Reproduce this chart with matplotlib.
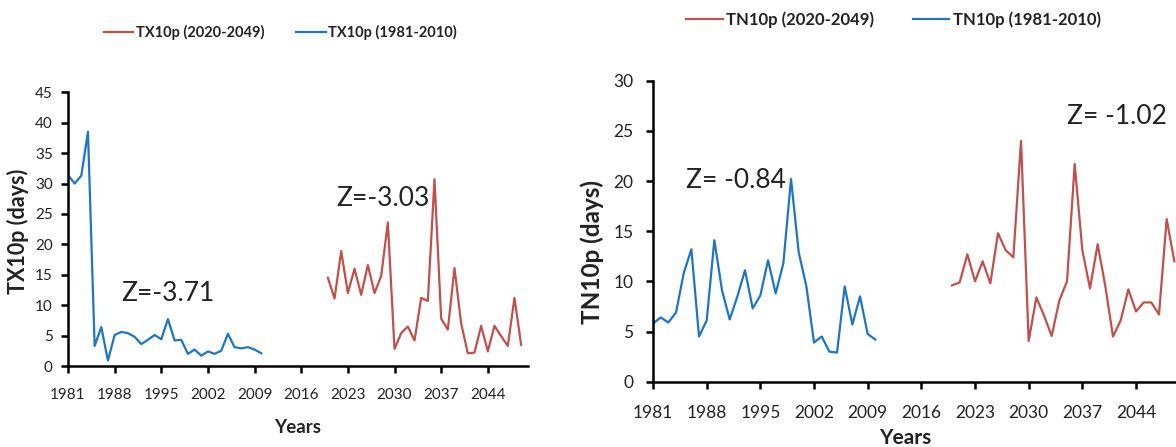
import matplotlib
matplotlib.use("Agg")
import matplotlib.pyplot as plt

plt.rcParams['font.family'] = ['Lato', 'DejaVu Sans']

years_base = list(range(1981, 2011))
years_future = list(range(2020, 2050))

tx10p_base = [31.4, 30.0, 31.3, 38.5, 3.3, 6.4, 0.9, 5.1, 5.6, 5.4,
              4.8, 3.6, 4.3, 5.1, 4.4, 7.7, 4.2, 4.3, 2.0, 2.7,
              1.7, 2.4, 2.0, 2.5, 5.3, 3.1, 2.9, 3.1, 2.7, 2.1]
tx10p_future = [14.5, 11.1, 18.9, 12.0, 16.0, 11.7, 16.6, 12.0, 14.8, 23.6,
                2.8, 5.4, 6.5, 4.2, 11.2, 10.7, 30.7, 7.8, 6.0, 16.1,
                7.0, 2.1, 2.2, 6.6, 2.4, 6.6, 4.9, 3.3, 11.2, 3.5]

tn10p_base = [5.8, 6.4, 5.9, 6.9, 10.8, 13.2, 4.5, 6.1, 14.1, 9.1,
              6.2, 8.5, 11.1, 7.3, 8.6, 12.1, 8.8, 11.8, 20.2, 12.9,
              9.5, 3.9, 4.5, 3.0, 2.9, 9.5, 5.7, 8.5, 4.75, 4.2]
tn10p_future = [9.6, 9.9, 12.7, 10.0, 12.0, 9.8, 14.8, 13.1, 12.4, 24.0,
                4.05, 8.4, 6.6, 4.55, 8.1, 10.0, 21.7, 13.1, 9.3, 13.7,
                9.5, 4.5, 6.1, 9.2, 7.0, 7.9, 7.9, 6.7, 16.2, 12.0]

tick_years = list(range(1981, 2045, 7))

RED = '#C0504D'
BLUE = '#1F74C4'
TXT = '#222222'

fig = plt.figure(figsize=(11.76, 4.47), dpi=100)

def style(ax, ymax, ystep, tick_fs, xpad, ypad, ylab, ylab_fs, ylab_xy,
          xlab_fs, xlab_xy):
    ax.set_xlim(1981, 2050)
    ax.set_ylim(0, ymax)
    ax.set_xticks(tick_years)
    ax.set_yticks(range(0, ymax + 1, ystep))
    for s in ['top', 'right']:
        ax.spines[s].set_visible(False)
    for s in ['left', 'bottom']:
        ax.spines[s].set_linewidth(1.8)
        ax.spines[s].set_color('black')
    ax.tick_params(axis='both', direction='out', length=5, width=1.8,
                   labelsize=tick_fs, colors='black', labelcolor=TXT)
    ax.tick_params(axis='x', pad=xpad)
    ax.tick_params(axis='y', pad=ypad)
    ax.set_ylabel(ylab, fontsize=ylab_fs, fontweight='bold', color=TXT)
    ax.yaxis.set_label_coords(*ylab_xy)
    ax.yaxis.label.set_va('center')
    ax.set_xlabel('Years', fontsize=xlab_fs, fontweight='bold', color=TXT)
    ax.xaxis.set_label_coords(*xlab_xy)
    ax.xaxis.label.set_va('center')

# Left panel
ax1 = fig.add_axes([0.0578, 0.1812, 0.391, 0.6123])
l1, = ax1.plot(years_future, tx10p_future, color=RED, lw=1.6)
l2, = ax1.plot(years_base, tx10p_base, color=BLUE, lw=1.6)
style(ax1, 45, 5, 11, 11, 6, 'TX10p (days)', 15.5, (-0.1087, 0.493),
      13.5, (0.50, -0.223))
ax1.text(1989, 12, 'Z=-3.71', fontsize=19, color=TXT, va='center', ha='left')
ax1.text(2021.3, 27.6, 'Z=-3.03', fontsize=19, color=TXT, va='center', ha='left')
fig.legend([l1, l2], ['TX10p (2020-2049)', 'TX10p (1981-2010)'],
           loc='center left', bbox_to_anchor=(0.077, 0.928), ncol=2,
           frameon=False, handlelength=2.0, handletextpad=0.2,
           columnspacing=2.2, prop={'weight': 'bold', 'size': 10.5},
           labelcolor=TXT)

# Right panel
ax2 = fig.add_axes([0.5553, 0.1461, 0.4498, 0.6734])
r1, = ax2.plot(years_future, tn10p_future, color=RED, lw=1.6)
r2, = ax2.plot(years_base, tn10p_base, color=BLUE, lw=1.6)
style(ax2, 30, 5, 12.5, 12, 9, 'TN10p (days)', 17.5, (-0.1153, 0.431),
      15, (0.476, -0.187))
ax2.text(1985.3, 20.1, 'Z= -0.84', fontsize=19, color=TXT, va='center', ha='left')
ax2.text(2035, 26.4, 'Z= -1.02', fontsize=19, color=TXT, va='center', ha='left')
fig.legend([r1, r2], ['TN10p (2020-2049)', 'TN10p (1981-2010)'],
           loc='center left', bbox_to_anchor=(0.571, 0.957), ncol=2,
           frameon=False, handlelength=2.2, handletextpad=0.2,
           columnspacing=2.3, prop={'weight': 'bold', 'size': 12},
           labelcolor=TXT)

fig.savefig('out.png', dpi=100)
